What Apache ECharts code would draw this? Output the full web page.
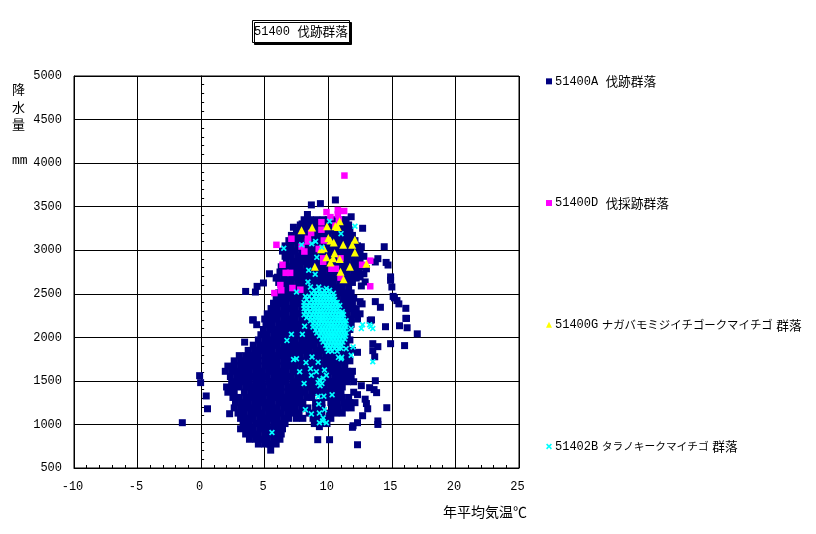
<!DOCTYPE html>
<html><head><meta charset="utf-8"><style>html,body{margin:0;background:#fff}#c{width:816px;height:534px}</style>
<script src="https://cdn.jsdelivr.net/npm/echarts@6/dist/echarts.min.js"></script></head><body><div id="c"></div>
<script>
const titleParts=['51400','伐跡群落'];
const yAxisTitle='降\n水\n量\n\nmm';
const seriesNames=['51400A 伐跡群落','51400D 伐採跡群落','51400G ナガバモミジイチゴークマイチゴ 群落','51402B タラノキークマイチゴ 群落'];
const xTicks={min:-10,max:25,step:5};
const yTicks={min:500,max:5000,step:500};
// navy: outliers read one by one
const navyOutliers=[[-1.48,1020],[-0.12,1560],[-0.04,1480],[0.4,1327],[0.5,1180],[2.24,1123],[4.05,2200],[4.37,2145],[3.42,1945],
[13.3,2195],[14.5,2122],[15.6,2133],[16.2,2110],[16.1,2218],[14.9,1927],[16.0,1905],[13.5,1927],[13.9,1893],[13.5,1847],[13.65,1777],[12.3,1828],[13.7,1502],[12.6,1445],[13.25,1422],[13.6,1400],[13.8,1365],[12.3,1342],[12.9,1290],[13.0,1240],[13.1,1180],[14.6,1192],[12.7,1100],[13.9,1040],[13.9,1000],[12.3,1020],[11.9,967],[9.17,825],[10.1,825],[12.3,767],[9.3,975],[11.95,985],
[8.67,3520],[9.38,3535],[10.56,3577],[8.36,3410],[11.8,3384],[12.7,3252],[7.26,3264],[7.94,3302],[14.4,3040],[12.6,3040],[13.9,2903],[13.7,2865],[14.55,2860],[14.7,2830],[13,2787],[12.8,2730],[12.5,2694],[12.2,2680],[14.9,2694],[14.9,2655],[12.6,2590],[12.9,2636],[15,2578],[5.37,2730],[4.9,2624],[4.4,2585],[4.27,2520],[3.5,2527],[5.9,2680],
[15.2,2453],[15.4,2422],[15.55,2384],[16.1,2333],[16.15,2217],[13.7,2410],[14.1,2345],[12.5,2410],[12.66,2384],[12.3,2260],[13.4,2200],[4.1,2200],[5.4,2260],[5.7,2390],[5.84,2326],[17,2040],[15.1,2470]];
// navy: the dense mass, [y, x, x, ...] row by row
const navyRows=[
[3350,8.1,8.6,9.1,9.6,10.0,10.5,11.0,11.4],
[3290,7.8,8.3,8.7,9.2,9.7,10.2,10.7,11.2,11.6],
[3230,7.5,8.0,8.5,8.9,9.4,9.9,10.4,10.9,11.3,11.7],
[3170,7.1,7.6,8.1,8.6,9.0,9.5,10.0,10.5,11.0,11.5,11.9],
[3110,6.9,7.4,7.8,8.3,8.8,9.3,9.8,10.2,10.7,11.2,11.7,12.1],
[3050,6.6,7.1,7.6,8.1,8.5,9.0,9.5,10.0,10.5,11.0,11.4,11.9,12.3],
[2990,6.4,6.9,7.4,7.9,8.3,8.8,9.3,9.8,10.3,10.8,11.2,11.7,12.2,12.5],
[2930,6.6,7.1,7.6,8.0,8.5,9.0,9.5,10.0,10.4,10.9,11.4,11.9,12.4,12.8],
[2870,6.7,7.2,7.7,8.2,8.6,9.1,9.6,10.1,10.6,11.0,11.5,12.0,12.5],
[2810,6.3,6.8,7.3,7.8,8.3,8.7,9.2,9.7,10.2,10.7,11.2,11.6,12.1,12.5],
[2750,6.2,6.7,7.2,7.7,8.2,8.6,9.1,9.6,10.1,10.6,11.0,11.5,12.0,12.4],
[2690,6.0,6.5,7.0,7.5,8.0,8.5,8.9,9.4,9.9,10.4,10.9,11.3,11.8],
[2630,6.1,6.6,7.1,7.6,8.1,8.5,9.0,9.5,10.0,10.4,10.9,11.4,11.9],
[2570,6.3,6.8,7.3,7.8,8.3,8.7,9.2,9.7,10.2,10.6,11.1,11.6],
[2510,6.1,6.6,7.1,7.6,8.0,8.5,9.0,9.5,10.0,10.4,10.9,11.4,11.8],
[2450,5.9,6.4,6.9,7.4,7.8,8.3,8.8,9.3,9.8,10.3,10.7,11.2,11.7,12.0],
[2390,5.7,6.2,6.7,7.2,7.6,8.1,8.6,9.1,9.6,10.0,10.5,11.0,11.5,11.9],
[2330,5.5,6.0,6.5,7.0,7.4,7.9,8.4,8.9,9.4,9.8,10.3,10.8,11.3,11.8,12.2],
[2270,5.2,5.7,6.2,6.7,7.2,7.6,8.1,8.6,9.1,9.5,10.0,10.5,11.0,11.5,12.0,12.5],
[2210,5.0,5.5,6.0,6.5,6.9,7.4,7.9,8.4,8.9,9.3,9.8,10.3,10.8,11.3,11.8,12.3],
[2150,5.1,5.6,6.1,6.5,7.0,7.5,8.0,8.5,8.9,9.4,9.9,10.4,10.9,11.3,11.8],
[2090,4.9,5.4,5.9,6.4,6.8,7.3,7.8,8.3,8.8,9.2,9.7,10.2,10.7,11.2,11.7],
[2030,4.7,5.2,5.7,6.2,6.6,7.1,7.6,8.1,8.6,9.0,9.5,10.0,10.5,11.0,11.5],
[1970,4.5,5.0,5.5,6.0,6.4,6.9,7.4,7.9,8.4,8.8,9.3,9.8,10.3,10.8,11.3,11.7],
[1910,4.1,4.6,5.1,5.6,6.0,6.5,7.0,7.5,8.0,8.4,8.9,9.4,9.9,10.4,10.9,11.4],
[1850,3.7,4.2,4.6,5.1,5.6,6.1,6.6,7.0,7.5,8.0,8.5,9.0,9.4,9.9,10.4,10.9,11.4,11.9],
[1790,3.0,3.5,4.0,4.5,5.0,5.4,5.9,6.4,6.9,7.4,7.8,8.3,8.8,9.3,9.8,10.2,10.7,11.2,11.6],
[1730,2.6,3.1,3.6,4.1,4.5,5.0,5.5,6.0,6.5,6.9,7.4,7.9,8.4,8.9,9.3,9.8,10.3,10.8,11.3,11.7],
[1670,2.1,2.6,3.1,3.6,4.1,4.5,5.0,5.5,6.0,6.5,6.9,7.4,7.9,8.4,8.9,9.3,9.8,10.3,10.8,11.3],
[1610,1.9,2.4,2.9,3.4,3.8,4.3,4.8,5.3,5.8,6.2,6.7,7.2,7.7,8.2,8.6,9.1,9.6,10.1,10.6,11.0,11.5,11.9],
[1550,2.3,2.8,3.3,3.8,4.2,4.7,5.2,5.7,6.2,6.6,7.1,7.6,8.1,8.6,9.0,9.5,10.0,10.5,11.0,11.4,11.8],
[1490,2.4,2.9,3.3,3.8,4.3,4.8,5.3,5.7,6.2,6.7,7.2,7.7,8.1,8.6,9.1,9.6,10.1,10.5,11.0,11.5,12.0],
[1430,2.0,2.5,3.0,3.5,3.9,4.4,4.9,5.4,5.9,6.3,6.8,7.3,7.8,8.3,8.7,9.2,9.7,10.2,10.7,11.1],
[1370,2.1,2.6,3.4,3.9,4.4,4.9,5.3,5.8,6.3,6.8,7.3,7.7,8.2,8.7,9.2,9.7,10.2,10.6,11.0,12.0],
[1310,2.5,3.0,3.5,4.0,4.4,4.9,5.4,5.9,6.4,6.8,7.3,7.8,8.3,8.7,9.6,10.1,10.6,11.1,11.6],
[1250,2.7,3.2,3.7,4.2,4.6,5.1,5.6,6.1,6.6,7.0,7.5,8.0,9.0,9.5,10.2,10.7,11.2,11.7,12.1],
[1190,2.6,3.1,3.6,4.1,4.5,5.0,5.5,6.0,6.5,6.9,7.4,7.9,8.4,9.0,9.5,10.3,10.8,11.3,11.8],
[1130,2.9,3.4,3.9,4.4,4.8,5.3,5.8,6.3,6.8,7.2,7.7,8.5,9.0,9.5,10.1,10.6,11.1],
[1070,3.1,3.6,4.1,4.6,5.0,5.5,6.0,6.5,6.9,7.5,8.0,8.8,9.3,9.8,10.2],
[1010,3.3,3.8,4.3,4.8,5.2,5.7,6.2,6.6,8.9,9.4,9.9],
[950,3.1,3.6,4.1,4.6,5.0,5.5,6.0,6.4],
[890,3.5,4.0,4.5,5.0,5.4,5.9,6.3],
[830,3.8,4.3,4.7,5.2,5.7,6.2],
[775,4.5,5.0,5.4,5.9],
[705,5.47]];
const magentaPoints=[[11.27,3857],[9.86,3438],[10.75,3461],[11.25,3450],[10.75,3411],[10.83,3353],[10.17,3380],[9.46,3322],[9.46,3236],[10.56,3283],[8.65,3198],[7.1,3132],[8.4,3132],[8.4,3100],[5.92,3062],[7.9,3043],[8.12,2985],[9.25,3015],[9.65,3112],[9.6,2907],[9.6,2868],[10.96,2907],[13.3,2880],[12.66,2833],[6.4,2833],[6.65,2740],[7,2740],[10.25,2787],[10.6,2787],[10.96,2686],[13.3,2586],[6.23,2600],[6.3,2540],[7.18,2566],[7.8,2547],[5.76,2508]];
const yellowPoints=[[7.9,3229],[8.73,3260],[9.9,3275],[10.9,3333],[10.56,3275],[10.75,3267],[10,3140],[10.17,3112],[10.43,3090],[11.17,3062],[11.88,3062],[12.09,3120],[12.09,2973],[9.65,3023],[9.43,3012],[10.5,2965],[9.86,2918],[10.38,2907],[10.9,2900],[10.17,2860],[11.7,2810],[8.94,2810],[10.96,2752],[11.2,2667],[13,2845]];
const cyanOutliers=[[7.1,2035],[6.75,1965],[7.96,2035],[8.14,2127],[7.27,1745],[7.5,1755],[8.25,1710],[8.72,1775],[9.2,1715],[7.75,1605],[8.6,1640],[8.1,1470],[8.67,1565],[9.06,1605],[9.7,1625],[9.3,1510],[9.6,1530],[9.85,1565],[9.2,1480],[9.35,1445],[9.5,1470],[10.3,1340],[9.65,1325],[9.2,1320],[9.25,1235],[8.2,1170],[8.67,1120],[9.7,1170],[9.3,1130],[9.6,1075],[9.85,1020],[9.3,1020],[9.55,1040],[5.57,907],[12.7,2145],[13.25,2145],[13.35,2125],[13.5,2100],[12.6,2100],[11.8,2100],[11.4,1870],[11.95,1890],[11.8,1795],[11,1755],[13.5,1720],
[10.1,3333],[12.1,3275],[11,3190],[7.9,3062],[6.5,3023],[9,3100],[8.7,3075],[9.5,3035],[9.1,2918],[8.46,2770],[8.97,2725],[8.4,2635],[7.5,2520],[8.2,2470],[9.25,2578],[8.6,2578],[9.85,2560],[10.9,2365],[11.1,2270]];
// cyan: the dense core, [y, x, x, ...] row by row
const cyanRows=[
[2540,8.9,9.3,9.7,10.1],
[2505,8.7,9.0,9.3,9.55,9.8,10.1,10.4],
[2470,8.5,8.9,9.2,9.45,9.7,9.95,10.2,10.45],
[2435,8.3,8.7,9.0,9.25,9.5,9.75,10.0,10.25,10.5],
[2400,8.1,8.5,8.8,9.05,9.3,9.55,9.8,10.05,10.3,10.55,10.7],
[2365,8.1,8.4,8.7,8.95,9.2,9.45,9.7,9.95,10.2,10.45,10.7],
[2330,8.1,8.4,8.75,9.0,9.25,9.5,9.75,10.0,10.25,10.5,10.75],
[2295,8.2,8.5,8.8,9.05,9.3,9.55,9.8,10.05,10.3,10.55,10.8,11.1],
[2260,8.1,8.4,8.7,8.95,9.2,9.45,9.7,9.95,10.2,10.45,10.7,10.95,11.2],
[2225,8.3,8.6,8.9,9.15,9.4,9.65,9.9,10.15,10.4,10.65,10.9,11.15],
[2190,8.6,8.9,9.2,9.45,9.7,9.95,10.2,10.45,10.7,10.95,11.2,11.4],
[2155,8.8,9.1,9.35,9.6,9.85,10.1,10.35,10.6,10.85,11.1,11.35],
[2120,8.8,9.1,9.4,9.65,9.9,10.15,10.4,10.65,10.9,11.15,11.4],
[2085,9.0,9.3,9.55,9.8,10.05,10.3,10.55,10.8,11.05,11.3],
[2050,9.1,9.4,9.65,9.9,10.15,10.4,10.65,10.9,11.15,11.4],
[2015,9.3,9.6,9.85,10.1,10.35,10.6,10.85,11.1,11.35],
[1980,9.5,9.75,10.0,10.25,10.5,10.75,11.0,11.3],
[1945,9.6,9.9,10.15,10.4,10.65,10.9,11.15],
[1910,9.8,10.05,10.3,10.55,10.8,11.05],
[1875,9.9,10.2,10.5,10.8,11.0],
[1840,10.0,10.3,10.7],
[1770,10.8,11.05]];
function expand(rows){const out=[];rows.forEach(r=>{for(let i=1;i<r.length;i++)out.push([r[i],r[0]]);});return out;}
const xMark='path://M0 2L2 0L5 3L8 0L10 2L7 5L10 8L8 10L5 7L2 10L0 8L3 5Z';
const font='"Liberation Mono","Noto Sans CJK JP"';
const jp='"Noto Sans CJK JP"';
const rich={l:{fontFamily:font,fontSize:12,color:'#000'},k:{fontFamily:jp,fontSize:12.7,color:'#000'},n:{fontFamily:jp,fontSize:11.4,color:'#000'},m:{fontFamily:jp,fontSize:10.7,color:'#000'},s:{fontFamily:font,fontSize:6,color:'#000'}};
const legendFmt=name=>{
 const p=name.split(' ');
 if(p.length===2)return `{l|${p[0]}} {k|${p[1]}}`;
 const st=p[1].length>12?'n':'m';
 return `{l|${p[0]}}{s| }{${st}|${p[1]}}{s| }{k|${p[2]}}`;
};
const chart=echarts.init(document.getElementById('c'),null,{renderer:'canvas'});
const mk=(name,data,symbol,size,color)=>({name,type:'scatter',data,symbol,symbolSize:size,itemStyle:{color,opacity:1},silent:true,animation:false,clip:false});
const axisInk={lineStyle:{color:'#000',width:1}};
chart.setOption({
 animation:false,backgroundColor:'#fff',
 textStyle:{fontFamily:font},
 title:{text:`{l|${titleParts[0]}} {k|${titleParts[1]}}`,left:252,top:20,padding:[5,2,5,2],backgroundColor:'#fff',borderColor:'#000',borderWidth:1,shadowColor:'#000',shadowOffsetX:2,shadowOffsetY:2,shadowBlur:0,textStyle:{rich,fontFamily:font,fontSize:12,fontWeight:'normal',color:'#000'}},
 legend:{orient:'vertical',left:541,top:70,itemGap:109,itemWidth:6,itemHeight:6,itemStyle:{opacity:1},inactiveColor:'#000',selectedMode:false,formatter:legendFmt,textStyle:{rich,fontFamily:font,fontSize:12,color:'#000',padding:[0,0,0,-2]},data:seriesNames},
 graphic:[{type:'text',left:12,top:82,style:{text:yAxisTitle,fill:'#000',fontFamily:font,fontSize:13,lineHeight:17.5}}],
 grid:{left:74,right:297,top:76,bottom:66,outerBoundsMode:'none',show:true,borderColor:'#000',borderWidth:1,backgroundColor:'transparent'},
 xAxis:{type:'value',min:xTicks.min,max:xTicks.max,interval:xTicks.step,
  name:'年平均気温℃',nameLocation:'end',nameGap:8,nameTextStyle:{fontFamily:jp,fontSize:14,color:'#000',align:'right',verticalAlign:'top',padding:[37,0,0,0]},
  axisLine:{onZero:false,...axisInk},axisTick:{show:true,inside:true,length:4,...axisInk},minorTick:{show:true,splitNumber:5,length:3,lineStyle:{color:'#000'}},
  splitLine:{show:true,lineStyle:{color:'#000',width:1}},axisLabel:{color:'#000',fontSize:12,margin:13,padding:[0,3,0,0],fontFamily:font,formatter:v=>String(v)}},
 yAxis:[{type:'value',min:yTicks.min,max:yTicks.max,interval:yTicks.step,
  axisLine:{onZero:false,...axisInk},axisTick:{show:false},splitLine:{show:true,lineStyle:{color:'#000',width:1}},axisLabel:{color:'#000',fontSize:12,margin:12,fontFamily:font,formatter:v=>String(v)}},
  {type:'value',min:yTicks.min,max:yTicks.max,interval:yTicks.step,position:'left',axisLine:{show:true,onZero:true,...axisInk},axisTick:{show:true,inside:true,length:3,...axisInk},minorTick:{show:true,splitNumber:5,length:3,lineStyle:{color:'#000'}},splitLine:{show:false},axisLabel:{show:false}}],
 series:[
  mk(seriesNames[0],navyOutliers.concat(expand(navyRows)),'rect',7,'#000080'),
  mk(seriesNames[1],magentaPoints,'rect',6.5,'#ff00ff'),
  mk(seriesNames[2],yellowPoints,'triangle',8,'#ffff00'),
  mk(seriesNames[3],cyanOutliers.concat(expand(cyanRows)),xMark,6,'#00ffff')]
});
</script></body></html>
